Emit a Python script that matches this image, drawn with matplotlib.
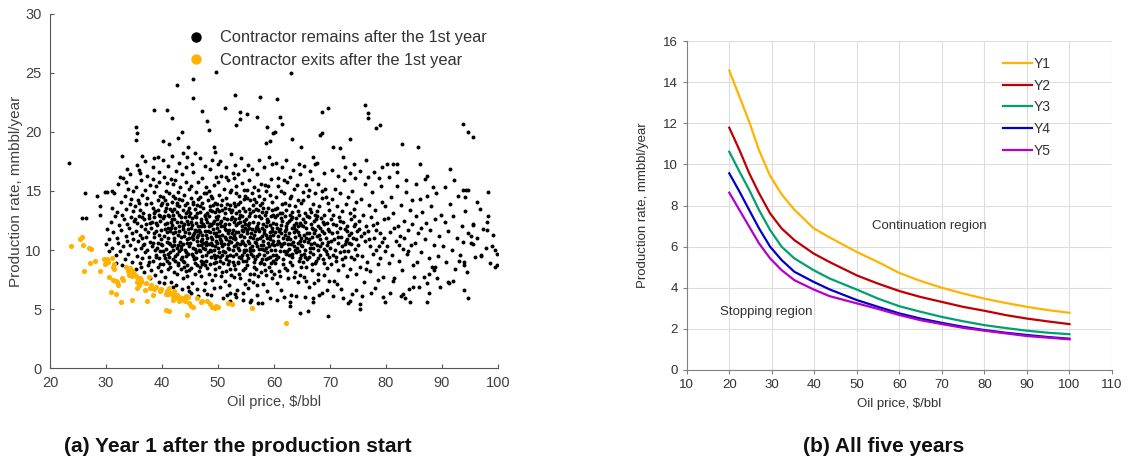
import matplotlib
matplotlib.use('Agg')
import matplotlib.pyplot as plt
from matplotlib.lines import Line2D
import numpy as np

plt.rcParams['font.family'] = ['Liberation Sans', 'DejaVu Sans']

# ---------------- panel (a) data: contractor remains (black) ----------------
remains_sparse = [
    (23.3,17.4),(26.2,14.8),(25.7,12.7),(26.4,12.7),(28.3,14.6),(28.9,13.0),(29.0,13.7),(29.8,14.9),(30.1,14.9),
    (30.0,10.5),(31.0,15.0),(32.8,18.0),(32.5,16.2),(33.7,16.9),(35.4,19.3),(35.5,19.9),(35.4,20.4),(36.4,18.0),
    (38.5,21.9),(38.6,17.8),(40.2,19.2),(40.8,21.9),(41.7,21.2),(41.3,19.0),(42.6,24.0),(42.9,19.5),(43.5,20.0),
    (43.8,18.2),(45.6,24.5),(45.5,22.9),(44.4,17.9),(44.7,18.7),(47.1,21.8),(48.0,20.9),(48.3,20.2),(49.6,25.1),
    (49.2,18.7),(50.0,17.3),(51.2,22.0),(53.0,23.1),(53.3,20.6),(53.9,21.1),(53.9,21.7),(55.1,21.5),(56.9,21.3),
    (57.5,23.0),(58.7,20.4),(58.6,19.1),(59.3,19.2),(60.5,22.8),(59.9,19.9),(60.2,20.0),(61.1,21.3),(61.5,20.7),
    (63.0,25.0),(63.2,19.4),(64.9,18.7),(66.9,17.9),(67.3,17.3),(68.5,21.7),(69.7,22.0),(68.2,19.7),(68.5,19.9),
    (70.6,18.7),(71.8,18.6),(72.4,17.9),(73.6,19.4),(74.2,17.3),(76.2,22.3),(76.8,21.2),(76.8,21.6),(76.5,17.6),
    (78.3,20.3),(78.9,20.6),(79.2,17.0),(80.1,17.3),(81.2,17.3),(81.9,17.3),(82.8,19.0),(85.8,18.7),(86.1,17.3),
    (87.3,16.3),(91.4,16.9),(93.8,15.1),(94.2,15.1),(94.7,15.1),(93.8,20.7),(94.7,20.0),(95.6,19.6),(96.2,14.1),
    (94.1,14.5),(98.3,14.9),(98.0,11.7),(98.0,12.4),(98.9,10.3),(99.8,9.7),(99.5,8.6),(99.8,8.7),(97.0,9.6),
    (95.2,11.2),(95.5,12.2),(95.6,10.5),(94.0,8.7),(93.0,9.1),(93.9,9.0),(94.7,5.9),(91.0,7.3),(92.0,7.4),
    (89.6,6.9),(87.3,5.6),(88.5,8.3),(88.8,8.6),(75.3,5.0),(75.3,5.4),(73.5,5.7),(73.2,5.5),(69.7,4.4),(67.0,5.6),
    (64.6,4.7),(66.1,4.8),(62.9,5.3),(57.2,5.5),(55.7,5.6),(53.0,6.3),(52.1,6.4),(79.8,5.6),(83.1,6.3),(83.4,5.9),
    (84.3,5.6),(81.3,7.4),(84.8,6.9),(85.0,7.7),(87.3,7.2),(87.6,8.0),
]
remains_30_40 = [
    (30.2,11.8),(30.5,10.9),(30.8,12.4),(31.0,13.6),(31.1,10.2),(31.3,11.5),(31.4,14.8),(31.6,12.9),(31.7,9.6),
    (31.9,11.0),(32.0,13.2),(32.1,15.6),(32.2,10.6),(32.4,12.1),(32.5,9.9),(32.6,14.1),(32.7,11.7),(32.9,13.0),
    (33.0,10.3),(33.1,16.1),(33.2,12.6),(33.3,9.2),(33.4,14.6),(33.5,11.2),(33.6,13.5),(33.7,10.8),(33.8,12.2),
    (33.9,15.2),(34.0,9.7),(34.1,11.9),(34.2,13.9),(34.3,10.4),(34.4,12.8),(34.5,14.3),(34.6,11.4),(34.7,9.0),
    (34.8,13.3),(34.9,10.9),(35.0,12.5),(30.6,9.9),(31.8,8.9),(32.8,8.7),(33.6,15.8),(34.3,16.4),(34.9,15.0),
    (35.1,10.1),(35.2,13.7),(35.3,8.4),(35.3,11.6),(35.4,15.3),(35.5,12.3),(35.6,9.5),(35.7,14.2),(35.7,10.8),
    (35.8,16.8),(35.9,12.9),(36.0,8.9),(36.0,11.3),(36.1,13.4),(36.2,10.2),(36.3,15.9),(36.3,12.0),(36.4,9.3),
    (36.5,14.7),(36.5,11.0),(36.6,13.1),(36.7,8.1),(36.8,12.6),(36.8,10.5),(36.9,15.1),(37.0,11.8),(37.0,9.8),
    (37.1,13.9),(37.2,12.2),(37.3,10.0),(37.3,16.3),(37.4,14.4),(37.5,8.7),(37.5,11.5),(37.6,13.0),(37.7,9.4),
    (37.7,12.7),(37.8,15.5),(37.9,10.7),(38.0,11.9),(38.0,14.0),(38.1,8.3),(38.2,12.4),(38.2,10.3),(38.3,13.6),
    (38.4,9.1),(38.4,16.0),(38.5,11.1),(38.6,14.9),(38.6,12.8),(38.7,10.0),(38.8,7.9),(38.8,13.3),(38.9,11.6),
    (39.0,9.6),(39.0,15.4),(39.1,12.1),(39.2,10.6),(39.2,14.2),(39.3,8.6),(39.4,13.0),(39.4,11.3),(39.5,16.6),
    (39.6,9.9),(39.6,12.5),(39.7,14.6),(39.8,10.9),(39.8,8.2),(39.9,13.8),(39.9,11.7),(35.5,17.2),(36.9,17.5),
    (38.3,17.0),(39.3,17.9),(36.2,8.6),(37.9,7.6),(39.5,7.3),(35.9,14.0),(36.6,10.4),(37.2,11.1),(37.8,12.3),
    (38.5,13.1),(39.1,10.2),(39.7,12.9),(35.2,12.6),(36.4,12.8),(37.6,9.0),(38.9,9.4),(39.4,15.8),(36.0,16.5),
]
remains_40_50 = [
    (40.0,10.4),(40.1,12.7),(40.1,8.8),(40.2,14.5),(40.3,11.2),(40.3,16.2),(40.4,9.6),(40.5,13.3),(40.5,11.8),
    (40.6,7.7),(40.7,10.1),(40.7,15.0),(40.8,12.3),(40.9,9.1),(40.9,13.9),(41.0,11.0),(41.0,17.1),(41.1,8.4),
    (41.2,12.9),(41.2,10.6),(41.3,14.8),(41.4,9.8),(41.4,11.6),(41.5,13.5),(41.6,7.3),(41.6,16.0),(41.7,10.3),
    (41.7,12.1),(41.8,14.1),(41.9,9.2),(41.9,11.4),(42.0,13.0),(42.0,15.6),(42.1,8.1),(42.2,10.8),(42.2,12.6),
    (42.3,14.4),(42.3,9.5),(42.4,11.9),(42.5,16.7),(42.5,7.0),(42.6,13.2),(42.6,10.2),(42.7,12.4),(42.8,8.7),
    (42.8,14.9),(42.9,11.3),(43.0,9.9),(43.0,13.7),(43.1,12.0),(43.2,15.3),(43.2,10.7),(43.3,8.4),(43.4,12.8),
    (43.4,11.1),(43.5,14.2),(43.6,9.4),(43.6,16.4),(43.7,10.5),(43.8,13.4),(43.8,7.6),(43.9,12.2),(44.0,9.0),
    (44.0,14.7),(44.1,11.5),(44.1,10.0),(44.2,13.1),(44.3,8.2),(44.3,15.8),(44.4,12.5),(44.5,10.9),(44.5,14.0),
    (44.6,9.7),(44.7,11.8),(44.7,6.9),(44.8,13.6),(44.9,10.3),(44.9,12.9),(40.2,17.6),(41.8,18.0),(43.1,17.4),
    (44.2,17.0),(40.4,7.2),(42.0,6.9),(43.5,6.7),(44.8,6.5),(40.6,9.3),(40.8,11.5),(41.1,13.0),(41.5,10.5),
    (41.8,12.6),(42.1,11.0),(42.4,9.1),(42.7,13.8),(43.0,11.6),(43.3,10.1),(43.7,12.0),(44.0,11.2),(44.3,9.5),
    (44.6,12.2),(40.0,14.0),(40.9,15.7),(41.3,8.9),(42.6,8.0),(43.9,8.6),(44.4,7.8),(40.5,12.2),(41.6,11.9),
    (42.9,10.4),(44.1,13.8),(44.8,11.4),(41.0,9.7),(42.2,13.5),(43.4,9.2),(44.5,8.7),(40.7,13.6),(41.9,14.6),
    (43.1,14.3),(44.9,15.2),(42.4,15.9),
    (45.0,10.6),(45.0,13.1),(45.1,8.5),(45.2,11.9),(45.2,15.4),(45.3,9.7),(45.4,12.7),(45.4,7.2),(45.5,14.1),
    (45.6,10.9),(45.6,16.6),(45.7,11.4),(45.8,8.9),(45.8,13.5),(45.9,10.1),(46.0,12.3),(46.0,14.9),(46.1,9.3),
    (46.2,11.1),(46.2,6.7),(46.3,13.8),(46.4,10.4),(46.4,12.0),(46.5,15.8),(46.6,8.2),(46.6,11.7),(46.7,13.2),
    (46.8,9.9),(46.8,14.5),(46.9,10.8),(47.0,12.6),(47.0,7.8),(47.1,11.3),(47.2,16.1),(47.2,9.5),(47.3,13.6),
    (47.4,10.2),(47.4,12.2),(47.5,14.8),(47.6,8.7),(47.6,11.6),(47.7,13.0),(47.8,9.1),(47.8,15.3),(47.9,10.7),
    (48.0,12.4),(48.0,6.3),(48.1,11.0),(48.2,14.2),(48.2,9.8),(48.3,12.9),(48.4,8.0),(48.4,10.5),(48.5,13.7),
    (48.6,11.5),(48.6,16.9),(48.7,9.4),(48.8,12.1),(48.8,14.6),(48.9,10.9),(49.0,7.5),(49.0,13.3),(49.1,11.8),
    (49.2,9.6),(49.2,15.5),(49.3,12.5),(49.4,10.3),(49.4,8.4),(49.5,14.0),(49.6,11.2),(49.6,12.8),(49.7,9.0),
    (49.8,13.9),(49.8,10.6),(49.9,11.9),(45.3,17.3),(46.7,17.8),(47.7,17.1),(48.9,17.6),(49.5,18.3),(45.9,18.2),
    (45.1,6.4),(46.5,6.1),(47.5,6.6),(48.7,6.2),(49.3,6.8),(45.7,9.2),(46.3,10.8),(46.9,12.0),(47.3,10.6),
    (47.9,11.3),(48.5,10.0),(49.1,12.3),(49.7,11.4),(45.4,11.1),(46.1,12.8),(46.8,11.5),(47.4,9.0),(48.1,13.1),
    (48.7,11.1),(49.3,10.0),(49.9,12.6),(45.6,13.9),(46.4,14.3),(47.1,14.0),(47.8,12.6),(48.3,15.0),(49.0,14.4),
    (49.6,16.2),(45.8,8.0),(46.7,8.6),(47.6,7.2),(48.5,8.8),(49.4,7.9),(45.2,12.4),(46.0,9.8),(46.9,9.1),
    (47.7,10.1),(48.4,12.0),(49.2,11.4),(49.8,9.5),(45.5,10.2),(46.2,11.6),(47.0,10.4),(47.9,14.8),(48.8,9.9),
    (49.5,13.2),
]
remains_50_60 = [
    (50.0,10.2),(50.0,12.9),(50.1,8.6),(50.2,11.6),(50.2,14.7),(50.3,9.4),(50.4,12.3),(50.4,6.9),(50.5,13.8),
    (50.6,10.8),(50.6,16.3),(50.7,11.3),(50.8,8.1),(50.8,13.4),(50.9,9.9),(51.0,12.0),(51.0,15.2),(51.1,10.5),
    (51.2,7.4),(51.2,11.8),(51.3,13.1),(51.4,9.2),(51.4,14.4),(51.5,10.9),(51.6,12.6),(51.6,6.2),(51.7,11.4),
    (51.8,15.9),(51.8,8.8),(51.9,13.5),(52.0,10.1),(52.0,12.2),(52.1,14.9),(52.2,9.6),(52.2,11.1),(52.3,13.2),
    (52.4,7.9),(52.4,10.7),(52.5,12.8),(52.6,16.5),(52.6,9.0),(52.7,11.7),(52.8,14.0),(52.8,10.3),(52.9,12.4),
    (53.0,8.4),(53.0,13.7),(53.1,11.0),(53.2,9.7),(53.2,15.4),(53.3,12.1),(53.4,10.6),(53.4,6.6),(53.5,13.9),
    (53.6,11.5),(53.6,8.9),(53.7,12.7),(53.8,10.0),(53.8,14.6),(53.9,11.2),(54.0,7.6),(54.0,13.0),(54.1,9.3),
    (54.2,12.0),(54.2,15.7),(54.3,10.8),(54.4,8.3),(54.4,13.6),(54.5,11.6),(54.6,9.8),(54.6,14.3),(54.7,12.5),
    (54.8,10.4),(54.8,7.1),(54.9,11.9),(50.3,17.5),(51.5,17.0),(52.3,18.1),(53.1,17.2),(54.1,17.8),(54.7,16.8),
    (50.9,5.9),(52.1,5.7),(53.3,6.0),(54.5,5.8),(50.1,11.2),(50.7,9.6),(51.1,12.7),(51.7,10.2),(52.2,13.8),
    (52.7,9.5),(53.1,12.6),(53.7,9.4),(54.1,11.3),(54.7,10.0),(50.5,10.6),(51.3,11.1),(51.9,9.1),(52.5,11.4),
    (53.0,10.9),(53.5,12.3),(54.3,12.9),(54.9,13.3),(50.2,13.3),(50.8,14.2),(51.6,13.9),(52.4,15.1),(53.3,14.8),
    (54.0,14.1),(54.6,15.1),(50.6,7.8),(51.4,8.2),(52.0,7.0),(52.9,7.7),(53.8,8.0),(54.4,6.4),(50.4,9.1),
    (51.2,9.8),(51.9,11.7),(52.6,10.0),(53.2,11.5),(53.9,10.5),(54.5,9.1),(50.0,15.8),(51.5,16.2),(52.8,16.1),
    (53.6,16.4),(54.8,12.2),
    (55.0,10.0),(55.0,12.6),(55.1,8.7),(55.2,11.4),(55.2,14.4),(55.3,9.3),(55.4,12.1),(55.4,6.8),(55.5,13.5),
    (55.6,10.6),(55.6,15.9),(55.7,11.1),(55.8,8.0),(55.8,13.1),(55.9,9.7),(56.0,11.8),(56.0,14.8),(56.1,10.3),
    (56.2,7.3),(56.2,12.4),(56.3,13.8),(56.4,9.0),(56.4,11.3),(56.5,15.3),(56.6,10.7),(56.6,12.9),(56.7,8.4),
    (56.8,11.9),(56.8,14.1),(56.9,9.5),(57.0,10.9),(57.0,16.4),(57.1,12.3),(57.2,7.8),(57.2,13.4),(57.3,10.1),
    (57.4,11.6),(57.4,14.6),(57.5,8.9),(57.6,12.7),(57.6,10.4),(57.7,15.6),(57.8,9.2),(57.8,11.2),(57.9,13.2),
    (58.0,7.1),(58.0,10.8),(58.1,12.2),(58.2,14.3),(58.2,9.6),(58.3,11.7),(58.4,8.3),(58.4,13.0),(58.5,10.2),
    (58.6,15.0),(58.6,12.0),(58.7,9.8),(58.8,11.0),(58.8,6.5),(58.9,13.6),(59.0,10.6),(59.0,12.5),(59.1,8.6),
    (59.2,14.7),(59.2,11.5),(59.3,9.4),(59.4,12.9),(59.4,10.0),(59.5,16.0),(59.6,7.6),(59.6,11.9),(59.7,13.4),
    (59.8,9.1),(59.8,10.8),(59.9,12.3),(55.3,17.2),(56.1,16.9),(57.3,17.6),(58.3,17.0),(59.1,17.9),(59.7,17.3),
    (55.9,5.8),(56.9,6.2),(57.9,5.5),(59.3,5.9),(55.1,11.7),(55.7,9.9),(56.3,11.0),(56.9,12.0),(57.5,11.0),
    (58.1,10.4),(58.7,12.6),(59.3,11.2),(59.9,9.6),(55.5,12.9),(56.2,10.0),(56.7,13.5),(57.4,9.7),(58.0,13.6),
    (58.5,11.3),(59.1,10.3),(59.6,14.1),(55.2,15.1),(55.8,14.2),(56.5,14.3),(57.1,15.1),(57.8,14.0),(58.4,15.5),
    (59.0,15.4),(55.6,7.5),(56.4,8.0),(57.0,7.0),(57.7,8.1),(58.6,7.9),(59.4,8.2),(55.0,9.1),(56.6,9.2),
    (58.2,8.8),(59.7,11.6),
]
remains_60_75 = [
    (60.0,10.4),(60.1,12.8),(60.1,8.9),(60.2,11.5),(60.3,14.5),(60.4,9.6),(60.4,12.2),(60.5,7.2),(60.6,13.6),
    (60.7,10.8),(60.7,16.1),(60.8,11.2),(60.9,8.2),(61.0,13.1),(61.0,9.9),(61.1,11.8),(61.2,15.0),(61.3,10.3),
    (61.3,6.6),(61.4,12.5),(61.5,13.9),(61.6,9.2),(61.6,11.0),(61.7,14.8),(61.8,10.6),(61.9,12.9),(62.0,8.5),
    (62.0,11.6),(62.1,13.4),(62.2,9.7),(62.3,10.9),(62.3,15.8),(62.4,12.3),(62.5,7.6),(62.6,13.8),(62.6,10.1),
    (62.7,11.4),(62.8,14.4),(62.9,9.0),(63.0,12.6),(63.0,10.5),(63.1,6.2),(63.2,11.9),(63.3,13.2),(63.3,9.4),
    (63.4,10.7),(63.5,15.2),(63.6,12.1),(63.7,8.1),(63.8,11.1),(63.8,13.7),(63.9,9.8),(64.0,12.7),(64.1,10.2),
    (64.2,14.2),(64.2,7.3),(64.3,11.5),(64.4,9.1),(64.5,13.0),(64.6,10.8),(64.6,16.4),(64.7,12.3),(64.8,8.6),
    (64.9,11.0),(64.9,14.0),(60.3,17.4),(61.4,17.0),(62.2,17.6),(63.4,16.8),(64.4,17.3),(60.6,5.8),(61.8,6.0),
    (62.8,5.6),(64.0,6.1),(60.2,10.0),(60.9,11.6),(61.5,10.5),(62.1,12.0),(62.7,9.6),(63.2,12.8),(63.9,11.7),
    (64.5,9.9),(60.5,13.0),(61.2,12.1),(61.9,14.0),(62.5,11.1),(63.1,14.6),(63.6,10.3),(64.3,12.0),(64.8,10.4),
    (60.8,15.4),(61.7,15.9),(62.9,16.2),(64.1,15.5),(60.0,8.0),(61.1,7.8),(62.4,8.3),(63.5,7.7),(64.7,7.9),
    (65.0,10.3),(65.1,12.6),(65.2,9.0),(65.2,14.2),(65.3,11.3),(65.4,7.7),(65.5,13.1),(65.6,10.0),(65.7,15.5),
    (65.7,11.9),(65.8,8.6),(65.9,12.9),(66.0,10.7),(66.1,14.6),(66.2,9.4),(66.2,11.4),(66.3,6.9),(66.4,13.5),
    (66.5,10.2),(66.6,12.2),(66.7,16.0),(66.7,8.3),(66.8,11.1),(66.9,13.9),(67.0,9.7),(67.1,12.5),(67.2,10.6),
    (67.2,7.2),(67.3,14.8),(67.4,11.7),(67.5,9.1),(67.6,13.3),(67.7,10.4),(67.8,12.0),(67.8,15.6),(67.9,8.0),
    (68.0,11.3),(68.1,13.7),(68.2,9.6),(68.3,10.9),(68.4,12.7),(68.5,6.4),(68.5,14.4),(68.6,11.6),(68.7,9.2),
    (68.8,12.4),(68.9,10.1),(69.0,13.0),(69.0,7.9),(69.1,15.2),(69.2,11.0),(69.3,9.9),(69.4,12.3),(69.5,8.5),
    (69.6,14.0),(69.6,10.7),(69.7,11.8),(69.8,13.4),(69.9,9.4),(65.4,17.1),(66.5,16.7),(67.6,17.4),(68.9,16.5),
    (65.6,6.0),(66.9,5.9),(68.0,6.2),(69.4,6.6),(65.3,9.7),(65.9,11.4),(66.6,10.5),(67.0,11.8),(67.7,12.9),
    (68.3,10.3),(68.9,11.4),(69.5,10.4),(65.1,14.9),(66.3,15.1),(67.4,13.0),(68.6,15.0),(69.3,14.5),(65.8,7.4),
    (66.8,8.8),(67.8,7.5),(69.0,8.9),(69.8,7.4),
    (70.0,10.2),(70.1,12.6),(70.2,8.8),(70.3,11.4),(70.4,14.3),(70.5,9.6),(70.6,13.0),(70.7,7.4),(70.8,10.9),
    (70.9,15.2),(71.0,12.1),(71.1,9.1),(71.2,11.5),(71.3,13.7),(71.4,8.3),(71.5,10.6),(71.6,12.8),(71.7,14.8),
    (71.8,9.8),(71.9,11.1),(72.0,6.7),(72.1,13.3),(72.2,10.3),(72.3,12.4),(72.4,8.7),(72.5,15.9),(72.6,11.8),
    (72.7,9.4),(72.8,13.9),(72.9,10.8),(73.0,7.8),(73.1,12.0),(73.2,14.5),(73.3,9.9),(73.4,11.3),(73.5,13.1),
    (73.6,8.4),(73.7,10.5),(73.8,12.6),(73.9,6.3),(74.0,15.0),(74.1,11.0),(74.2,9.2),(74.3,13.5),(74.4,10.1),
    (74.5,12.2),(74.6,8.0),(74.7,14.1),(74.8,11.6),(74.9,9.6),(70.4,16.8),(71.5,16.3),(72.7,17.0),(73.6,16.5),
    (74.4,16.1),(70.6,6.1),(72.4,5.9),(74.6,6.6),(70.9,10.0),(71.7,11.9),(72.5,9.9),(73.1,10.9),(73.8,11.4),
    (74.3,12.9),(71.3,7.1),
]
remains_75_100 = [
    (75.0,10.4),(75.2,12.5),(75.3,8.6),(75.5,11.2),(75.6,14.3),(75.8,9.5),(75.9,13.0),(76.0,7.3),(76.2,10.8),
    (76.3,15.6),(76.5,12.0),(76.6,9.0),(76.8,11.6),(76.9,13.8),(77.1,8.2),(77.2,10.3),(77.4,12.8),(77.5,14.9),
    (77.7,9.7),(77.8,11.0),(78.0,6.8),(78.1,13.4),(78.3,10.0),(78.4,12.3),(78.6,8.8),(78.7,16.1),(78.9,11.4),
    (79.0,9.3),(79.2,14.1),(79.3,10.7),(79.5,7.7),(79.6,12.6),(79.8,13.7),(79.9,9.9),(75.4,16.7),(76.7,16.2),
    (77.9,16.6),(79.1,15.4),(75.7,6.1),(77.3,6.4),(79.4,6.0),(75.1,11.8),(76.1,11.4),(77.0,10.9),(77.6,12.1),
    (78.2,11.7),(78.8,10.3),(79.7,11.0),(76.4,8.4),(78.5,7.5),
    (80.1,10.3),(80.3,12.7),(80.5,8.9),(80.7,11.5),(80.9,14.5),(81.1,9.6),(81.3,13.1),(81.5,7.6),(81.7,10.8),
    (81.9,15.4),(82.1,12.0),(82.3,9.1),(82.5,11.2),(82.7,13.8),(82.9,8.3),(83.1,10.1),(83.3,12.5),(83.5,14.9),
    (83.7,9.7),(83.9,11.7),(84.1,6.7),(84.3,13.4),(84.5,10.4),(84.7,12.2),(84.9,8.7),(80.6,16.2),(82.0,16.6),
    (83.6,15.9),(80.8,6.4),(82.6,6.1),(81.4,11.9),(82.4,10.4),(83.2,11.0),(84.0,9.9),(84.6,14.2),
    (85.1,10.6),(85.3,12.9),(85.6,9.0),(85.8,11.4),(86.0,14.3),(86.3,9.8),(86.5,13.2),(86.7,7.7),(87.0,10.9),
    (87.2,12.3),(87.4,14.6),(87.7,9.3),(87.9,11.7),(88.1,13.7),(88.3,8.6),(88.6,10.4),(88.8,12.6),(89.0,14.8),
    (89.3,9.5),(89.5,11.2),(89.8,13.0),(85.4,15.6),(86.9,16.0),(88.4,15.3),(85.9,6.9),(87.6,6.4),(89.1,7.6),
    (86.2,11.9),
    (90.2,10.3),(90.5,12.4),(90.8,9.0),(91.1,11.6),(91.4,13.9),(91.7,10.0),(92.0,12.9),(92.3,8.4),(92.6,11.0),
    (92.9,14.6),(93.2,9.6),(93.5,12.0),(93.8,10.7),(94.1,13.3),(94.4,8.1),(94.7,11.4),(90.6,15.3),(92.2,15.9),
    (91.3,7.2),(93.9,6.6),
    (95.2,10.6),(95.6,12.1),(95.9,9.4),(96.3,11.0),(96.7,13.5),(97.0,9.5),(97.4,11.8),(97.8,10.2),(98.2,12.9),
    (98.6,8.9),(99.1,11.3),(99.5,10.0),
]
remains_core = [
    (38.3,10.6),(38.9,12.3),(39.4,9.3),(39.9,10.5),(40.3,12.9),(40.8,10.7),(41.2,9.4),(41.6,12.4),(41.9,10.0),
    (42.3,11.5),(42.7,9.7),(43.1,13.0),(43.4,10.3),(43.8,11.8),(44.2,9.8),(44.6,13.3),(44.9,11.0),(45.3,12.1),
    (45.6,9.5),(45.9,11.7),(46.3,13.1),(46.6,10.0),(46.9,12.4),(47.2,8.8),(47.6,12.9),(47.9,9.6),(48.2,11.6),
    (48.6,13.4),(48.9,10.4),(49.2,8.9),(49.6,10.8),(49.9,13.5),(50.3,10.9),(50.6,12.5),(50.9,8.9),(51.3,12.2),
    (51.6,9.5),(51.9,10.8),(52.3,12.6),(52.6,11.0),(52.9,8.7),(53.3,13.1),(53.6,10.2),(53.9,12.4),(54.3,9.6),
    (54.6,11.1),(54.9,8.5),(55.3,10.8),(55.6,12.3),(55.9,11.4),(56.3,9.5),(56.6,11.6),(56.9,10.3),(57.3,12.9),
    (57.6,9.0),(57.9,11.9),(58.3,10.0),(58.6,13.2),(58.9,9.3),(59.3,12.1),(59.6,10.5),(59.9,13.0),(60.3,9.2),
    (60.6,11.9),(60.9,10.6),(61.3,12.7),(61.6,8.8),(61.9,11.3),(62.3,9.9),(62.6,12.5),(62.9,10.9),(63.3,8.7),
    (63.6,11.5),(63.9,12.3),(64.3,10.6),(64.6,9.3),(64.9,12.1),(65.3,10.8),(65.6,12.4),(65.9,9.2),(66.3,10.9),
    (66.6,13.2),(66.9,10.2),(67.3,8.9),(67.6,11.2),(67.9,10.0),
    (38.6,11.4),(39.2,13.4),(39.7,8.8),(40.1,9.9),(40.6,14.2),(41.1,11.9),(41.5,8.6),(41.8,13.3),(42.2,10.4),
    (42.6,14.0),(42.9,8.9),(43.3,12.4),(43.7,9.1),(44.1,12.8),(44.4,10.6),(44.8,8.3),(45.1,14.4),(45.5,11.3),
    (45.8,12.9),(46.2,8.7),(46.5,11.3),(46.8,13.7),(47.1,10.9),(47.5,12.0),(47.8,10.4),(48.1,8.5),(48.5,12.2),
    (48.8,10.6),(49.1,13.8),(49.5,9.3),(49.8,12.2),(50.2,9.8),(50.5,12.0),(50.8,10.3),(51.2,13.6),(51.5,11.7),
    (51.8,10.5),(52.2,8.4),(52.5,13.4),(52.8,11.3),(53.2,10.4),(53.5,9.0),(53.8,13.3),(54.2,11.7),(54.5,10.6),
    (54.8,14.6),(55.2,9.6),(55.5,11.9),(55.8,10.2),(56.2,13.3),(56.5,8.6),(56.8,10.6),(57.2,11.8),(57.5,13.8),
    (57.8,10.1),(58.2,11.4),(58.5,9.2),(58.8,12.4),(59.2,10.9),(59.5,8.9),(59.8,11.3),(60.2,13.5),(60.5,10.5),
    (60.8,9.4),(61.2,11.4),(61.5,13.1),(61.8,9.9),(62.2,11.8),(62.5,10.5),(62.8,13.0),(63.2,9.7),(63.5,11.9),
    (63.8,10.0),(64.2,13.3),(64.5,11.3),(64.8,9.6),(65.2,12.0),(65.5,9.4),(65.8,11.0),(66.2,12.8),(66.5,9.8),
    (66.8,11.9),(67.2,11.4),(67.5,12.6),(67.8,9.3),(68.2,11.9),(68.6,10.6),(69.0,12.2),(69.4,9.7),(69.8,11.6),
    (70.2,10.8),(70.6,12.2),(71.0,9.4),(71.4,11.1),(71.8,12.5),(72.2,9.2),(72.6,10.5),(73.0,11.6),(73.4,10.6),
    (73.8,9.4),(74.2,12.0),(74.6,10.9),
]

# ---------------- panel (a) data: contractor exits (orange) ----------------
exits = [
    (23.8,10.3),(25.3,10.9),(25.7,11.1),(25.9,10.4),(26.1,8.2),(27.0,10.2),(27.3,10.1),(27.2,8.9),(28.0,9.1),
    (28.9,8.2),(29.6,9.25),(30.2,9.25),(29.8,8.85),(30.4,9.0),(30.6,7.7),(30.8,6.45),(31.1,9.3),(31.2,8.6),
    (31.4,8.8),(31.5,8.4),(31.3,7.5),(31.7,7.4),(32.0,7.3),(31.7,6.3),(32.6,5.6),(32.8,7.6),(33.5,8.6),(33.9,8.2),
    (34.1,7.9),(34.4,8.3),(34.6,7.8),(34.9,8.1),(35.2,7.9),(34.2,8.5),(34.6,5.8),(35.5,7.3),(35.6,6.8),(35.8,7.0),
    (35.6,7.7),(36.1,7.6),(36.3,7.3),(36.2,7.5),(37.3,5.7),(37.7,7.7),(37.8,6.8),(38.1,7.0),(38.6,6.7),(38.4,6.2),
    (39.0,6.9),(39.8,6.7),(39.6,6.5),(40.7,4.9),(41.2,4.85),(40.8,6.5),(41.1,6.3),(41.3,6.8),(41.5,6.4),(40.7,6.3),
    (41.7,6.3),(42.0,6.1),(42.2,6.5),(41.9,5.8),(42.3,5.9),(42.6,6.2),(43.0,6.0),(44.5,4.5),(43.6,5.9),(43.9,5.8),
    (44.1,5.7),(44.3,6.1),(44.6,6.0),(43.0,5.7),(44.9,5.5),(46.3,5.9),(45.2,5.3),(45.6,5.2),(46.9,5.6),(47.1,5.7),
    (48.1,5.7),(48.5,5.4),(49.0,5.2),(49.4,5.1),(49.7,5.3),(50.0,5.2),(51.7,5.5),(52.5,5.45),(56.0,5.1),(62.2,3.8),
    (36.9,6.6),(37.1,7.2),(33.0,7.5),(32.2,7.0),
]

# ---------------- panel (b) data ----------------
price = [20, 22.4, 24.7, 27, 29.6, 32.3, 35.3, 39.8, 43.6, 50, 55, 60, 65, 70, 75, 80, 85, 90, 95, 100]
y1 = [14.57, 13.3, 12.07, 10.69, 9.45, 8.55, 7.8, 6.9, 6.45, 5.74, 5.25, 4.72, 4.33, 4.0, 3.72, 3.47, 3.26, 3.07, 2.91, 2.78]
y2 = [11.79, 10.7, 9.57, 8.6, 7.62, 6.89, 6.32, 5.67, 5.25, 4.6, 4.2, 3.84, 3.55, 3.31, 3.07, 2.88, 2.67, 2.5, 2.36, 2.23]
y3 = [10.62, 9.65, 8.76, 7.78, 6.81, 6.0, 5.43, 4.86, 4.45, 3.91, 3.47, 3.1, 2.83, 2.58, 2.37, 2.18, 2.04, 1.91, 1.81, 1.74]
y4 = [9.57, 8.68, 7.78, 6.89, 6.0, 5.35, 4.78, 4.29, 3.92, 3.4, 3.07, 2.75, 2.5, 2.29, 2.1, 1.94, 1.81, 1.7, 1.6, 1.52]
y5 = [8.63, 7.78, 6.97, 6.16, 5.43, 4.86, 4.37, 3.92, 3.59, 3.24, 2.97, 2.67, 2.42, 2.23, 2.05, 1.91, 1.78, 1.65, 1.57, 1.49]
year_labels = ['Y1', 'Y2', 'Y3', 'Y4', 'Y5']
year_colors = ['#ffb300', '#c00000', '#00a070', '#0000cc', '#b400c8']

fig = plt.figure(figsize=(11.37, 4.63), dpi=100, facecolor='white')

# ---- left panel ----
ax1 = fig.add_axes([0.044, 0.205, 0.394, 0.765])
black = np.array(remains_sparse + remains_30_40 + remains_40_50 + remains_50_60
                 + remains_60_75 + remains_75_100 + remains_core)
orange = np.array(exits)
ax1.scatter(black[:, 0], black[:, 1], s=8, color='black', linewidths=0)
ax1.scatter(orange[:, 0], orange[:, 1], s=14, color='#ffb300', linewidths=0)
ax1.set_xlim(20, 100)
ax1.set_ylim(0, 30)
ax1.set_xticks(range(20, 101, 10))
ax1.set_yticks(range(0, 31, 5))
for s in ['top', 'right']:
    ax1.spines[s].set_visible(False)
for s in ['left', 'bottom']:
    ax1.spines[s].set_color('#555555')
ax1.tick_params(direction='in', length=3, pad=6, colors='#555555', labelsize=10.5, labelcolor='#404040')
ax1.set_xlabel('Oil price, $/bbl', fontsize=10.5, color='#404040', labelpad=3)
ax1.set_ylabel('Production rate, mmbbl/year', fontsize=11, color='#404040', labelpad=2)
handles = [Line2D([], [], marker='o', ls='', color='black', markersize=6.5),
           Line2D([], [], marker='o', ls='', color='#ffb300', markersize=6.5)]
ax1.legend(handles, ['Contractor remains after the 1st year', 'Contractor exits after the 1st year'],
           loc='upper right', bbox_to_anchor=(1.012, 1.0), frameon=False, fontsize=11.8,
           labelcolor='#333333', handletextpad=0.5, labelspacing=0.45, borderaxespad=0.6)

# ---- right panel ----
ax2 = fig.add_axes([0.604, 0.201, 0.374, 0.710])
for vals, lab, col in zip([y1, y2, y3, y4, y5], year_labels, year_colors):
    ax2.plot(price, vals, color=col, linewidth=1.6, label=lab)
ax2.set_xlim(10, 110)
ax2.set_ylim(0, 16)
ax2.set_xticks(range(10, 111, 10))
ax2.set_yticks(range(0, 17, 2))
ax2.grid(True, color='#dddddd', linewidth=0.8)
ax2.set_axisbelow(True)
for s in ['top', 'right']:
    ax2.spines[s].set_visible(False)
for s in ['left', 'bottom']:
    ax2.spines[s].set_color('#808080')
ax2.tick_params(direction='out', length=3, colors='#808080', labelsize=9.5, labelcolor='#303030')
ax2.set_xlabel('Oil price, $/bbl', fontsize=9.5, color='#303030', labelpad=5)
ax2.set_ylabel('Production rate, mmbbl/year', fontsize=9.5, color='#303030', labelpad=10)
ax2.text(67, 7.0, 'Continuation region', fontsize=9.5, color='#303030', ha='center', va='center')
ax2.text(17.8, 2.8, 'Stopping region', fontsize=9.5, color='#303030', ha='left', va='center')
ax2.legend(loc='upper right', bbox_to_anchor=(0.885, 0.99), frameon=False, fontsize=10,
           handlelength=2.1, handletextpad=0.1, labelspacing=0.55, labelcolor='#303030')

# ---- captions ----
cap = dict(fontsize=15, fontweight='bold', ha='center', va='center', color='#111111')
fig.text(238 / 1137, 1 - 447 / 463, '(a) Year 1 after the production start', **cap)
fig.text(884 / 1137, 1 - 447 / 463, '(b) All five years', **cap)

fig.savefig('out.png', dpi=100, facecolor='white')
